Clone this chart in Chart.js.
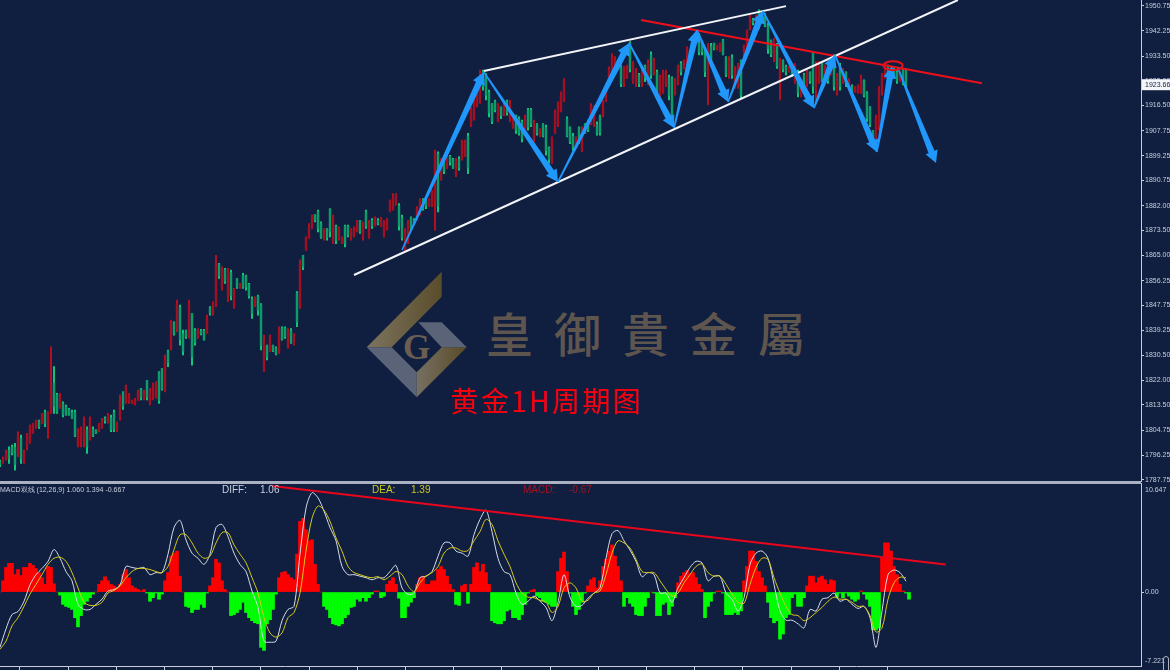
<!DOCTYPE html>
<html><head><meta charset="utf-8">
<script src="https://cdn.jsdelivr.net/npm/chart.js@4"></script>
<style>
html,body{margin:0;padding:0;width:1170px;height:670px;overflow:hidden;background:#101f40}
canvas{position:absolute;left:0}
#c1{top:0}#c2{top:483px}
.t{position:absolute;white-space:nowrap;font-family:"Liberation Sans",sans-serif;font-size:10px;line-height:12px;top:484px;z-index:3}
#brand{position:absolute;left:486px;top:299px;font:500 47px/66px "Noto Sans CJK TC",sans-serif;letter-spacing:21px;color:#5e564e;white-space:nowrap}
#title{position:absolute;left:450px;top:380px;font:400 28px/40px "Noto Sans CJK SC",sans-serif;letter-spacing:2.4px;color:#f2000c;white-space:nowrap}
#logo{position:absolute;left:0;top:0}
.rule{position:absolute;left:0;width:1141px;height:1.5px;background:#a9b1c2}
#grip{position:absolute;left:1163px;top:656px;width:4px;height:16px;border:1px solid #a9b1c2;border-radius:3px}
</style></head><body>
<svg id="logo" width="1170" height="670">
<defs>
<linearGradient id="g1" x1="0" y1="0" x2="1" y2="0"><stop offset="0" stop-color="#7d735e"/><stop offset="1" stop-color="#5a4d2b"/></linearGradient>
<linearGradient id="g2" x1="0" y1="0" x2="1" y2="0"><stop offset="0" stop-color="#767062"/><stop offset="1" stop-color="#5a4b27"/></linearGradient>
</defs>
<polygon points="441.7,271.7 441.7,296.7 391.7,347.3 366.7,347.3" fill="url(#g1)"/>
<polygon points="366.7,347.3 391.7,347.3 416.7,372.3 416.7,397.3" fill="#5b6378"/>
<polygon points="416.7,372.3 441.7,347.3 466.7,347.3 416.7,397.3" fill="url(#g2)"/>
<polygon points="418.3,322.3 441.7,322.3 466.7,347.3 441.7,347.3" fill="#5b6378"/>
<text x="416.7" y="359" text-anchor="middle" font-family="Liberation Serif" font-weight="bold" font-size="35" fill="#6a5e50">G</text>
</svg>
<div id="brand">皇御貴金屬</div>
<div id="title">黄金1H周期图</div>
<canvas id="c1" width="1170" height="482" style="width:1170px;height:482px"></canvas>
<canvas id="c2" width="1170" height="187" style="width:1170px;height:187px"></canvas>
<div class="rule" style="top:481px"></div><div class="rule" style="top:483px;height:1px"></div>
<div class="t" style="left:0;font-size:7px;color:#c8d0dc">MACD双线 (12,26,9) 1.060 1.394 -0.667</div>
<div class="t" style="left:222px;color:#c8d0dc">DIFF:</div><div class="t" style="left:260px;color:#c8d0dc">1.06</div>
<div class="t" style="left:372px;color:#c9c81e">DEA:</div><div class="t" style="left:411px;color:#c9c81e">1.39</div>
<div class="t" style="left:523px;color:#a81020">MACD:</div><div class="t" style="left:569px;color:#a81020">-0.67</div>
<div id="grip"></div>
<script>
const opens=[1794,1794,1795,1798,1799,1799,1797,1802,1794,1799,1801,1804,1806,1808,1807,1811,1807,1811,1821,1817,
1813,1814,1813,1812,1811,1811,1800,1801,1803,1805,1802,1805,1805,1805,1806,1809,1808,1809,1811,1805,
1809,1818,1815,1815,1814,1814,1815,1819,1816,1822,1814,1816,1816,1825,1826,1819,1832,1833,1842,1840,
1847,1838,1839,1837,1845,1839,1837,1839,1839,1838,1847,1845,1848,1862,1854,1860,1851,1859,1848,1857,
1854,1858,1858,1855,1850,1848,1851,1848,1827,1834,1832,1834,1833,1832,1840,1840,1834,1839,1835,1852,
1848,1865,1867,1871,1875,1879,1880,1876,1871,1874,1881,1870,1875,1871,1869,1875,1875,1871,1872,1873,
1877,1871,1880,1871,1877,1875,1877,1875,1872,1874,1880,1881,1883,1882,1878,1867,1870,1878,1877,1877,
1879,1884,1884,1882,1882,1884,1900,1891,1897,1895,1899,1898,1893,1898,1898,1899,1906,1910,1912,1917,
1918,1928,1927,1921,1917,1918,1911,1916,1913,1918,1912,1909,1913,1912,1911,1907,1915,1915,1905,1910,
1906,1910,1909,1902,1897,1907,1910,1915,1918,1912,1909,1906,1902,1909,1901,1910,1911,1910,1910,1910,
1913,1913,1918,1924,1928,1928,1932,1930,1924,1926,1938,1925,1924,1927,1924,1930,1925,1934,1928,1928,
1920,1921,1924,1926,1926,1921,1924,1931,1929,1930,1935,1936,1938,1941,1938,1935,1925,1937,1938,1936,
1935,1939,1933,1927,1933,1923,1923,1932,1934,1937,1943,1946,1945,1949,1945,1948,1944,1939,1933,1937,
1925,1932,1930,1928,1929,1925,1928,1920,1927,1924,1928,1935,1922,1925,1931,1926,1928,1927,1933,1921,
1930,1925,1928,1922,1923,1921,1921,1921,1925,1921,1916,1908,1902,1909,1921,1926,1930,1926,1929,1928,1925,1929,1929];
const closes=[1793,1795,1797,1795,1797,1793,1803,1795,1797,1803,1806,1807,1808,1806,1810,1807,1811,1818,1813,1811,
1816,1810,1810,1810,1809,1803,1804,1805,1807,1799,1808,1803,1804,1807,1808,1808,1810,1805,1805,1807,
1815,1813,1820,1817,1815,1815,1818,1816,1818,1816,1818,1820,1821,1815,1819,1829,1828,1842,1838,1848,
1836,1832,1837,1848,1830,1835,1839,1838,1836,1843,1845,1848,1863,1858,1860,1856,1859,1851,1853,1854,
1855,1854,1854,1851,1845,1850,1846,1834,1836,1830,1836,1832,1831,1839,1836,1837,1839,1835,1838,1842,
1862,1861,1871,1875,1878,1877,1874,1871,1874,1871,1873,1878,1870,1874,1871,1869,1872,1874,1874,1876,
1873,1876,1875,1876,1875,1878,1876,1878,1876,1877,1884,1885,1886,1875,1871,1873,1876,1874,1876,1881,
1884,1881,1882,1884,1887,1900,1882,1898,1894,1899,1897,1895,1897,1895,1904,1904,1895,1915,1920,1923,
1927,1923,1920,1914,1911,1915,1917,1913,1917,1914,1917,1913,1908,1907,1905,1912,1909,1910,1910,1907,
1908,1906,1901,1898,1905,1914,1917,1920,1925,1906,1904,1902,1905,1904,1908,1907,1908,1916,1916,1907,
1907,1918,1923,1929,1933,1932,1930,1924,1929,1930,1929,1931,1928,1924,1928,1926,1931,1927,1932,1921,
1926,1928,1928,1920,1913,1925,1930,1928,1932,1936,1933,1940,1941,1935,1935,1928,1936,1931,1936,1937,
1938,1934,1927,1932,1927,1929,1930,1920,1937,1942,1947,1945,1947,1944,1948,1944,1936,1934,1939,1930,
1932,1929,1928,1930,1927,1930,1921,1925,1922,1928,1925,1923,1931,1931,1925,1930,1925,1932,1923,1927,
1923,1929,1924,1925,1921,1923,1923,1926,1920,1912,1910,1905,1912,1922,1927,1929,1927,1929,1926,1925,1928,1924,1923.66];
const highs=[1794.5,1795.7,1798,1799.1,1799.7,1800.3,1804.3,1803.1,1798,1803.7,1806.6,1807.2,1808.3,1808.3,1810.6,1811.7,1811.2,1833.5,1826.7,1817.5,
1817.5,1814.6,1813.5,1812.3,1811.7,1811.7,1805.4,1806,1809.4,1806,1809.4,1806,1804.9,1807.2,1808.9,1809.4,1810.6,1810,1811.7,1807.7,
1816.9,1818,1820.3,1817.5,1815.2,1815.8,1818.6,1819.2,1818.6,1822,1819.2,1821,1821.5,1825,1826,1830.7,1832.4,1842.7,1842.1,1849.6,
1847.9,1839.3,1839.3,1849.6,1845,1839.8,1839.8,1839.5,1839.5,1844.4,1847.3,1849,1865,1862.2,1861,1860.5,1860.5,1859.9,1853.6,1857,
1855.3,1858.8,1858.2,1855.3,1850.7,1850.7,1851.3,1848.4,1837.5,1834.1,1837.5,1834.1,1833.5,1840.4,1840.4,1840.4,1839.8,1839.8,1838,1852.5,
1863.4,1865,1871.3,1875.9,1878.8,1878.8,1880.5,1876.5,1874.2,1874.2,1881,1878.8,1875.4,1874.8,1871.3,1875.4,1875.4,1874.2,1874.8,1877,
1877,1876.5,1880.5,1877,1877.6,1878.2,1877.6,1878,1877,1877.6,1884,1886.2,1886.2,1882.8,1878.8,1874.2,1877,1878.2,1877.6,1881.7,
1884.5,1884.5,1884.5,1884.5,1887.4,1901.2,1900.6,1898.3,1897.7,1900,1899.4,1898.3,1898.3,1898.9,1904.6,1904.6,1906.9,1916,1921.8,1924.1,
1928.7,1928.7,1927.5,1921.8,1917.2,1918.4,1917.2,1916,1917.8,1918.4,1918.4,1913.8,1913.2,1912.6,1911.5,1913.2,1915.5,1915.5,1911.5,1910.3,
1908.6,1910.3,1909.8,1902.3,1905.7,1914.9,1917.8,1921.2,1925.8,1912.6,1909.2,1906.9,1905.7,1909.2,1909.2,1910.3,1911.5,1917.2,1916.6,1910.9,
1913.2,1918.4,1924.1,1929.8,1934.4,1933.3,1932.1,1930.4,1929.9,1930.4,1938.5,1931.6,1929.3,1927.6,1929.3,1930.4,1932.2,1935,1932.7,1928.7,
1927,1928.7,1928.7,1927,1926.4,1925.8,1930.4,1931.6,1932.2,1936.7,1935.6,1940.2,1941.9,1941.3,1938.5,1935.6,1937.9,1937.9,1937.9,1937.3,
1937.9,1939.3,1933.3,1933.3,1933.9,1929.9,1931,1932.2,1937.3,1942.5,1947.6,1946.5,1947.6,1949.4,1948.8,1948.2,1944.8,1939,1939.6,1937.9,
1932.7,1932.2,1930.4,1929.9,1929.9,1931,1928.7,1925.3,1927.6,1928.7,1928.1,1935,1931.6,1931.6,1931,1930.4,1928.7,1932.2,1933.9,1927.6,
1931,1929.3,1928.1,1925.8,1923.6,1923,1923.6,1927,1925.3,1921.3,1916.1,1908,1913.2,1923,1927.6,1929.9,1930.4,1929.9,1929.3,1928.7,1928.1,1929.3,1929.3];
const lows=[1792.3,1793.4,1794.5,1793.4,1796.3,1791.1,1795.7,1793.4,1793.4,1798,1800.3,1803.7,1805.4,1805.4,1807.2,1806,1802,1810.6,1810.6,1810.6,
1812.3,1809.4,1810,1810,1808.9,1802.6,1799.1,1799.1,1799.1,1796.8,1801.4,1802.6,1803.7,1804.3,1805.4,1807.2,1807.2,1804.3,1804.3,1804.3,
1808.3,1812,1814,1814,1814,1813.5,1815.2,1815.2,1815.2,1815.2,1813.5,1815.2,1815.8,1814,1818.6,1818,1826.7,1832.4,1837.5,1838.7,
1834.1,1830.7,1836.4,1836.4,1827.2,1834.1,1836.4,1837.6,1835.8,1838.1,1844.4,1844.4,1847.3,1857,1853,1855.3,1849,1849.6,1846.7,1853.6,
1853.6,1853.6,1853,1850.2,1843.3,1847.3,1844.4,1832.4,1825,1829,1831.8,1831.8,1830.7,1831.2,1835.8,1836.4,1833,1834.7,1834.1,1840.4,
1846.7,1860,1866.7,1870.8,1874.2,1876.5,1873,1870.8,1870.2,1870.2,1871.3,1869,1869,1870.2,1869,1867.9,1871.3,1870.2,1871.3,1873,
1872.5,1870.2,1874.2,1870.8,1874.2,1875.4,1875.4,1874.8,1871.3,1873.6,1879.9,1880.5,1882.2,1873.6,1870.2,1866.7,1869,1873.6,1875.4,1877,
1878.8,1880.5,1881,1881.7,1881.7,1873.6,1879.9,1890.8,1893.1,1894.9,1896,1894.9,1892,1894.3,1897.7,1898.9,1893.1,1909.2,1911.5,1916,
1917.2,1921.8,1918.4,1912.6,1910.3,1914.3,1910.9,1912,1913.2,1913.2,1910.9,1908.6,1906.9,1906.3,1904,1906.3,1908,1909.2,1904,1906.3,
1905.7,1905.7,1899.4,1896.6,1896.6,1906.9,1909.2,1914.3,1917.8,1905.7,1903.4,1901.1,1901.7,1903.4,1900.6,1906.9,1907.5,1909.8,1909.2,1906.3,
1906.3,1912.6,1917.8,1924.1,1927.5,1927.5,1929.3,1923,1923,1925.8,1928.1,1924.1,1923,1923,1923,1924.7,1923.6,1925.8,1927,1919.5,
1918.4,1920.7,1923,1918.4,1910.4,1920.1,1923.6,1927,1929.3,1929.3,1932.2,1935.6,1937.9,1933.9,1933.9,1926.4,1916.7,1929.9,1935.6,1935.6,
1935,1933.9,1926.4,1925.8,1925.8,1922.4,1922.4,1919,1933.3,1936.7,1942.5,1944.2,1944.8,1943,1944.8,1943.6,1934.4,1933.3,1931.6,1929.3,
1918.4,1928.1,1927,1928.1,1926.4,1924.1,1919.5,1919.5,1921.8,1923,1924.1,1920.7,1917.2,1924.1,1924.7,1925.3,1924.1,1927,1921.8,1920.1,
1921.8,1924.1,1923,1921.8,1920.7,1921.3,1920.7,1920.7,1919.5,1911,1909.2,1904,1900.6,1908,1920.1,1925.8,1925.8,1925.8,1925.8,1924.1,1924.7,1923.6,1923];
const lastPrice=1923.66;
const priceTicks=[1950.75,1942.25,1933.5,1925,1916.5,1907.75,1899.25,1890.75,1882,1873.5,1865,1856.25,1847.75,1839.25,1830.5,1822,1813.5,1804.75,1796.25,1787.75];
const macdHist=[0,1.1,2.4,2.8,2.8,1.7,2.2,1.6,2.4,2.4,2.8,2.6,2.3,1.9,1.4,.75,2.5,2.4,.8,0,
-.3,-1.2,-1.4,-1.5,-1.7,-2.5,-3.4,-2.3,-1.2,-.9,-.55,-.2,0,.75,1.1,1.5,1.1,.75,.6,.4,
.75,1.7,2.2,1.4,.6,.4,.25,.1,.25,-.1,-.9,-.55,-.1,-.7,-.2,1.1,1.9,3.5,3.8,4,
1.55,0,-1.4,-1.5,-2,-1.7,-1.7,-1.2,-1.5,-.1,.6,1.4,3.2,2.85,1.1,.25,0,-2.3,-2.2,-2,
-1.7,-1,-2,-2.5,-2.8,-3,-3.1,-5.4,-5.7,-3.1,-2.7,-1.7,-.2,1.4,1.9,2,1.7,1.4,1.2,3.7,
6.9,7.2,6.1,5,5.1,2.7,.75,0,-1.4,-1.7,-2.5,-3.1,-3.2,-3.3,-3.1,-2.5,-2.2,-1.5,-1.4,-.7,
-.9,-.55,-.9,-.55,-.2,.1,.1,-.55,-.4,.75,1.1,1.4,.75,-.6,
-2.5,-2.5,-1.4,-1,-.55,.75,1.4,1.55,.75,.75,1.1,1.1,2.2,2.5,2.2,1.55,.75,.25,
-1.2,-1.3,.6,.75,-1.1,.75,2.4,2.85,2,2.7,1.9,.75,
-2.8,-3,-3.1,-3.1,-2.8,-1.85,-1.7,-2.5,-2.5,-2.7,-2.2,-1.2,-.1,.15,.25,-.4,-.55,-.9,-1,-1.2,-1.4,-1.4,
2,3.3,3.9,2,-.1,-1.4,-2.2,-1.7,-1,-.1,.6,1.2,1.4,.4,1.1,2.5,3.2,4,4.6,3.5,2.5,1.1,
-1.4,-.55,-1.1,-1.4,-2.2,-2.3,-2.3,-1.4,-.55,0,-.1,-2.3,-2.3,-1.2,-1,-2.2,-1.4,-.55,.9,1.55,1.9,2.1,1.8,1.9,1.4,.75,.25,
-2.5,-1.4,-.9,-.1,.1,.1,-.1,-2.2,-2.2,-2.2,-2,-2.2,-1.85,1.1,2.5,4,4,3,2,1.4,.6,
-1,-2.5,-3,-2.8,-4.6,-4.1,-2.5,-2.2,-.55,-.2,-1.4,
-1.4,-.55,.6,1.55,1.55,.9,1.4,1.55,1.2,.75,1.2,1.1,-.5,-.1,-.55,-.1,-.4,-.7,-.9,-.7,.1,-.2,-.7,-1.4,-3.7,-3.7,-3.5,3.3,4.8,4.8,4,2.5,1.7,.75,.1,-.1,-.7];
const diffLine=[-5.4,-3.6,-2.2,-1.9,-.9,.7,1.7,2.3,3,4.15,3.3,2,1.1,-1.2,-1.7,-1.7,-1.2,-.7,.1,.25,.7,2.5,2.4,2.3,2.4,1.7,1.9,1.9,3.7,6.3,7,5.1,3.8,3.3,2.7,3.7,6.3,6.6,5.4,3.8,2.7,2,.1,-1.5,-4.8,-4.9,-4.8,-2.8,-1.7,-1.4,3.7,8.2,9.7,9.2,7.9,6.3,5,2.5,1.7,1.7,1.55,1.4,1.2,1.4,1.4,2,2.6,
.4,-.2,-.1,1.4,1.55,2,3.5,4.8,4.8,4,3.8,3.5,5.6,7.1,8,5.9,3.3,2,1.7,-.1,-1.2,-.9,-.4,-.9,-1.5,-2.8,-1,1.7,-.5,-1.4,-1.3,-.6,-.1,.4,3.3,5.7,6,5,4.1,3,1.5,1.9,1.7,-.1,-.1,-1,.4,1.4,2.4,3,2.85,1.1,1.55,1.55,-.1,-.7,-1.85,-.55,2.7,3.8,4,3.3,.75,-1.85,-2.75,-2.75,-3.1,
-3.5,-1.7,-1.85,-.7,-.55,-.1,-.9,-.7,-1.2,-1.6,-1.4,-2.5,-5.4,-1.85,1.7,2.15,1.9,1.06];
const deaLine=[-5.6,-4.8,-3.3,-2.5,-1.4,-.2,.75,1.7,2.7,3.3,3.4,3,1.9,.4,-1,-1.3,-1.3,-1,-.1,.15,.6,1.4,2,2.3,2.3,2.2,2,1.9,2.5,4.15,5.6,5.6,4.8,3.8,3.3,3.5,4.8,5.8,5.8,4.6,3.7,2.85,1.4,-.1,-2.5,-4,-4.4,-4,-2.5,-2,-.1,4,7.2,8.4,8,6.9,5.3,4,2.5,1.9,1.7,1.5,1.4,1.5,1.2,1.55,2,
1.7,.6,.05,.9,1.55,1.9,2.5,3.8,4.3,4.3,4,4.05,5,5.9,7.1,6.6,5,3.7,2.5,.9,-.1,-.5,-.55,-.8,-1,-2,-1.4,.4,.9,.4,-.9,-.8,-.1,.1,1.7,3.8,5,4.8,4.3,3.2,2,1.9,1.9,1.1,.25,-.4,-.1,.9,1.7,2.5,2.75,1.9,1.55,1.55,.75,-.2,-1,-1.1,.75,2.4,3.3,3.2,1.4,-.1,-1.4,-2.2,-2.3,
-2.8,-2.5,-2,-1.5,-.9,-.5,-.7,-.7,-1,-1.4,-1.4,-2.3,-3.9,-3.5,-.7,.9,1.45,1.39];
const macdTickValues=[9.95,0,-6.75];
const macdTickLabels=["10.647","0.00","-7.221"];
const timeTicks=[14.67,30.73,46.8,62.87,78.93,95,111.07,127.13,143.2,159.27,175.33,191.4,207.47,223.53,239.6,255.67,271.73,287.8];
const lowerTrendX=[118,319.3],lowerTrendY=[1858.2,1952.8];
const upperTrendX=[161.3,262],upperTrendY=[1928.4,1950.7];
const redTrendX=[213.7,327.3],redTrendY=[1945.9,1924.2];
const macdTrendX=[90.7,315.2],macdTrendY=[10.36,2.68];
const tailX=[134,161.3,186,209.7,224.7,232.3,242.7,254.3,271.3,278.3,292.3,299.3];
const tailY=[1866.8,1928,1890.2,1938,1908.8,1942.5,1917.7,1949,1915.6,1933.9,1900.5,1929.4];
const headX=[161.3,186,209.7,224.7,232.3,242.7,254.3,271.3,278.3,292.3,297.3,312];
const headY=[1928,1890.2,1938,1908.8,1942.5,1917.7,1949,1915.6,1933.9,1900.5,1930.1,1896.7];
const ringX=297.7,ringY=1930.2;

const axisInk='#c6cedb',font='"Liberation Sans",sans-serif',axisSize=7;
const pts=(a,b)=>a.map((v,i)=>({x:v,y:b[i]}));
const trend=(x,y,color,w)=>({type:'line',data:pts(x,y),borderColor:color,borderWidth:w,pointRadius:0,tension:0,order:0});
const overlay={id:'overlay',afterDatasetsDraw(c){
  const g=c.ctx,X=c.scales.x,Y=c.scales.y;
  g.save();g.fillStyle='#1f97fb';
  tailX.forEach((_,i)=>{
    const x0=X.getPixelForValue(tailX[i]),y0=Y.getPixelForValue(tailY[i]),x1=X.getPixelForValue(headX[i]),y1=Y.getPixelForValue(headY[i]);
    const L=Math.hypot(x1-x0,y1-y0),ux=(x1-x0)/L,uy=(y1-y0)/L,nx=-uy,ny=ux,hl=12,bx=x1-ux*hl,by=y1-uy*hl;
    g.beginPath();g.moveTo(x0+nx*.8,y0+ny*.8);g.lineTo(bx+nx*3.2,by+ny*3.2);g.lineTo(bx+nx*6.5,by+ny*6.5);g.lineTo(x1,y1);
    g.lineTo(bx-nx*6.5,by-ny*6.5);g.lineTo(bx-nx*3.2,by-ny*3.2);g.lineTo(x0-nx*.8,y0-ny*.8);g.closePath();g.fill();
  });
  g.strokeStyle='#e8101a';g.lineWidth=2;g.beginPath();
  g.ellipse(X.getPixelForValue(ringX),Y.getPixelForValue(ringY),9.5,4.5,0,0,Math.PI*2);g.stroke();
  g.restore();
},afterDraw(c){
  const g=c.ctx,y=c.scales.y.getPixelForValue(lastPrice);
  g.save();g.fillStyle='#f4f6fa';g.fillRect(1142,y-5.5,28,11);
  g.fillStyle='#101f40';g.font=axisSize+'px '+font;g.textBaseline='middle';g.textAlign='left';g.fillText(lastPrice.toFixed(2),1145,y+.5);g.restore();
}};
const candleColor=(up,dn)=>opens.map((o,i)=>closes[i]>=o?up:dn);
const noPad=s=>{s.width=29;s.paddingTop=0;s.paddingBottom=0};
new Chart(document.getElementById('c1'),{type:'bar',plugins:[overlay],data:{datasets:[
  trend(lowerTrendX,lowerTrendY,'#f2f4f8',2),
  trend(upperTrendX,upperTrendY,'#f2f4f8',2),
  trend(redTrendX,redTrendY,'#ee0f1a',2),
  {label:'body',data:opens.map((o,i)=>({x:i,y:[o,closes[i]]})),backgroundColor:candleColor('#a01022','#0d9c69'),barThickness:1.8,grouped:false,order:1},
  {label:'wick',data:highs.map((h,i)=>({x:i,y:[lows[i],h]})),backgroundColor:candleColor('#b80f20','#12c97c'),barThickness:1.3,grouped:false,order:2}
]},options:{responsive:false,animation:false,devicePixelRatio:1,events:[],
  layout:{padding:0},plugins:{legend:{display:false},tooltip:{enabled:false}},
  scales:{
    x:{type:'linear',display:false,offset:false,min:0,max:1141/3},
    y:{position:'right',min:1787,max:1952.8,
      afterFit:noPad,
      afterBuildTicks(s){s.ticks=priceTicks.map(v=>({value:v}))},
      grid:{drawOnChartArea:false,drawTicks:true,tickLength:3,color:axisInk},
      border:{display:true,color:axisInk},
      ticks:{autoSkip:false,maxRotation:0,padding:1,color:axisInk,font:{family:font,size:axisSize},callback:v=>v.toFixed(2)}}
  }}});
new Chart(document.getElementById('c2'),{type:'bar',data:{datasets:[
  {type:'line',data:diffLine.map((v,i)=>({x:i*2,y:v})),borderColor:'#d6dce8',borderWidth:1,pointRadius:0,tension:.3,order:1},
  {type:'line',data:deaLine.map((v,i)=>({x:i*2,y:v})),borderColor:'#d9c91a',borderWidth:1,pointRadius:0,tension:.3,order:0},
  trend(macdTrendX,macdTrendY,'#e8061c',2),
  {label:'hist',data:macdHist.map((v,i)=>({x:i,y:v})),backgroundColor:macdHist.map(v=>v>=0?'#ff0000':'#00ff00'),barThickness:3,grouped:false,order:3}
]},options:{responsive:false,animation:false,devicePixelRatio:1,events:[],
  layout:{padding:0},plugins:{legend:{display:false},tooltip:{enabled:false}},
  scales:{
    x:{type:'linear',offset:false,min:0,max:1141/3,
      afterFit(s){s.height=4;s.paddingLeft=0;s.paddingRight=0},
      afterBuildTicks(s){s.ticks=timeTicks.map(v=>({value:v}))},
      grid:{drawOnChartArea:false,drawTicks:true,tickLength:4,color:axisInk},
      border:{display:true,color:axisInk},
      ticks:{display:false,autoSkip:false}},
    y:{position:'right',min:-7.221,max:10.647,
      afterFit:noPad,
      afterBuildTicks(s){s.ticks=macdTickValues.map(v=>({value:v}))},
      grid:{drawOnChartArea:false,drawTicks:true,tickLength:3,color:c=>c.tick&&c.tick.value===0?axisInk:'rgba(0,0,0,0)'},
      border:{display:true,color:axisInk},
      ticks:{autoSkip:false,maxRotation:0,padding:1,color:axisInk,font:{family:font,size:axisSize},callback:v=>macdTickLabels[macdTickValues.indexOf(v)]}}
  }}});
</script>
</body></html>
